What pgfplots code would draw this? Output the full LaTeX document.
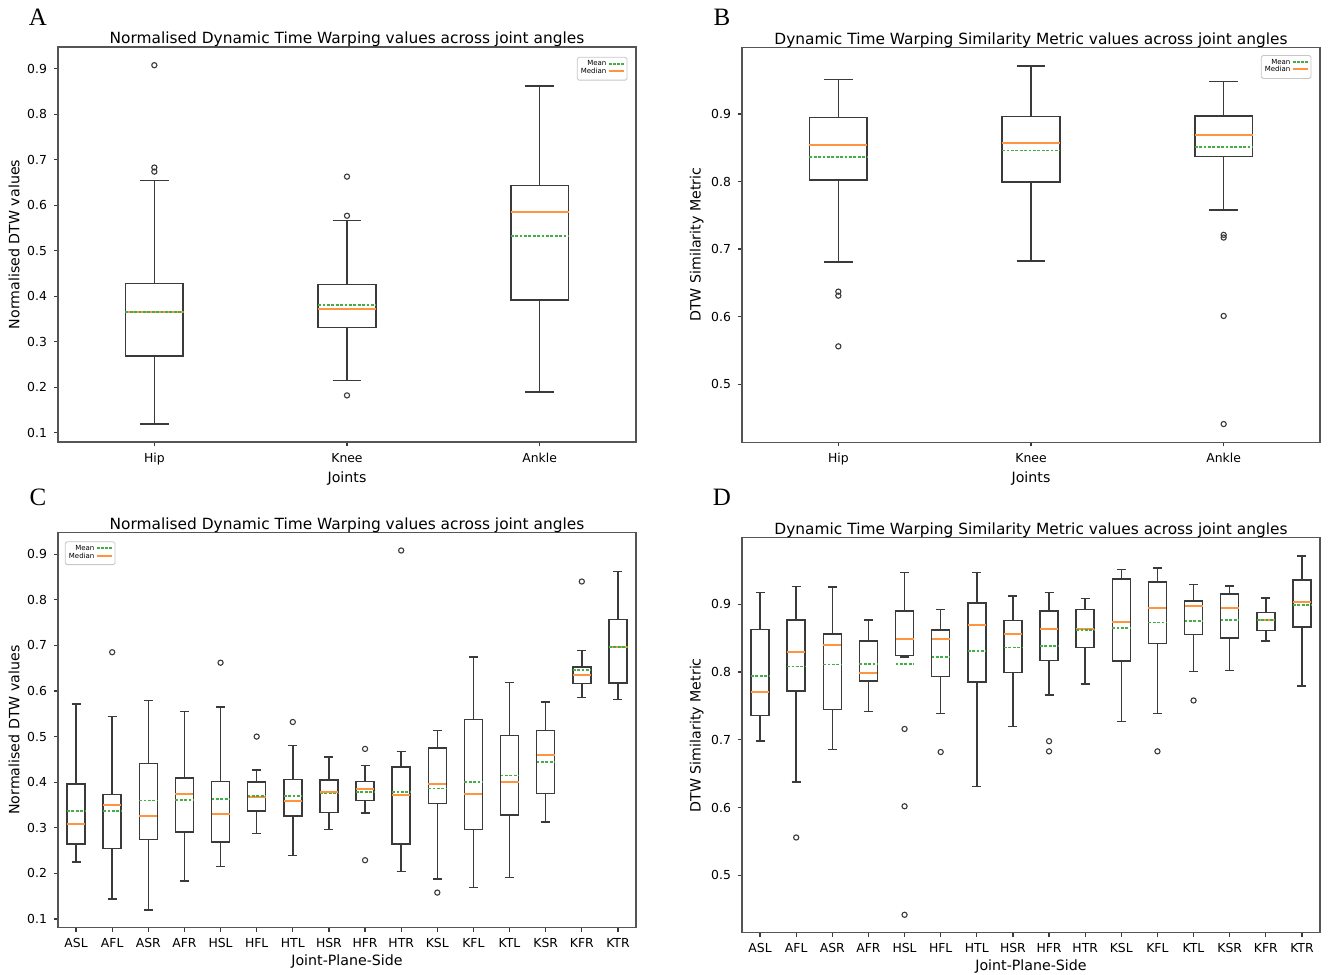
\documentclass[border=0pt]{standalone}
\usepackage{pgfplots}
\pgfplotsset{compat=1.18}
\usepgfplotslibrary{statistics}
\usepackage{fontspec}
\setmainfont{DejaVu Sans}
\newfontfamily\letterfont{Liberation Serif}

\definecolor{boxc}{HTML}{3A3A3A}
\definecolor{framec}{HTML}{555555}
\definecolor{medc}{HTML}{FF9440}
\definecolor{meanc}{HTML}{45AD45}

\pgfplotsset{
  panel/.style={
    scale only axis, width=289pt, height=197.5pt,
    axis line style={draw=framec, line width=0.7pt},
    tick pos=left, tick align=outside, major tick length=2pt,
    tick style={draw=boxc, line width=0.6pt},
    tick label style={font=\fontsize{6.2}{7}\selectfont},
    /pgf/number format/assume math mode=true,
    yticklabel style={/pgf/number format/.cd, fixed, fixed zerofill, precision=1},
    title style={font=\fontsize{7.7}{9}\selectfont, yshift=-9.5pt},
    label style={font=\fontsize{7.1}{8.5}\selectfont},
    xlabel style={yshift=3.5pt},
    ylabel style={yshift=-3pt},
    legend plot pos=right, legend cell align=right,
    legend image code/.code={\draw[##1] (0pt,0.6pt) -- (7.5pt,0.6pt);},
    legend style={font=\fontsize{3.5}{3.7}\selectfont, draw=black!22,
      rounded corners=0.8pt, inner sep=0.9pt, row sep=-2.2pt,
      nodes={inner sep=0.9pt}},
  },
  bx/.style={
    forget plot, draw=boxc, line width=0.75pt, solid,
    boxplot/draw direction=y,
    boxplot/whisker extend=\pgfkeysvalueof{/pgfplots/boxplot/box extend}*0.5,
    boxplot/every median/.style={draw=medc, line width=1pt},
    boxplot/draw/average/.code={%
      \draw[meanc, line width=0.8pt, dash pattern=on 1.4pt off 0.8pt]
        (boxplot box cs:\pgfplotsboxplotvalue{average},0) --
        (boxplot box cs:\pgfplotsboxplotvalue{average},1);},
  },
  fliers/.style={forget plot, only marks, mark=o, mark size=1.3pt,
    mark options={draw=boxc, line width=0.55pt}},
}
\newcommand{\meanmedlegend}{%
  \addlegendimage{meanc, line width=0.8pt, dash pattern=on 1.2pt off 0.8pt}
  \addlegendentry{Mean}
  \addlegendimage{medc, line width=1pt}
  \addlegendentry{Median}}

\begin{document}
\begin{tikzpicture}
\useasboundingbox (0pt,0pt) rectangle (665pt,-487.5pt);

% ---------------- A ----------------
\begin{axis}[panel, at={(29pt,-221pt)}, anchor=south west,
  xmin=0.5, xmax=3.5, ymin=0.0795, ymax=0.948,
  xtick={1,2,3}, xticklabels={Hip,Knee,Ankle},
  ytick={0.1,0.2,0.3,0.4,0.5,0.6,0.7,0.8,0.9},
  title={Normalised Dynamic Time Warping values across joint angles},
  xlabel={Joints}, ylabel={Normalised DTW values},
  legend style={at={(0.985,0.975)}, anchor=north east}]
\meanmedlegend
\addplot[bx, boxplot prepared={draw position=1, box extend=0.3,
  lower whisker=0.119, lower quartile=0.269, median=0.365, average=0.366,
  upper quartile=0.428, upper whisker=0.655}] coordinates {};
\addplot[bx, boxplot prepared={draw position=2, box extend=0.3,
  lower whisker=0.215, lower quartile=0.331, median=0.373, average=0.381,
  upper quartile=0.426, upper whisker=0.566}] coordinates {};
\addplot[bx, boxplot prepared={draw position=3, box extend=0.3,
  lower whisker=0.190, lower quartile=0.392, median=0.586, average=0.533,
  upper quartile=0.643, upper whisker=0.862}] coordinates {};
\addplot[fliers] coordinates {(1,0.908) (1,0.683) (1,0.674)
  (2,0.663) (2,0.577) (2,0.182)};
\end{axis}

% ---------------- B ----------------
\begin{axis}[panel, at={(371pt,-221.15pt)}, anchor=south west,
  xmin=0.5, xmax=3.5, ymin=0.414, ymax=0.9986,
  xtick={1,2,3}, xticklabels={Hip,Knee,Ankle},
  ytick={0.5,0.6,0.7,0.8,0.9},
  title={Dynamic Time Warping Similarity Metric values across joint angles},
  xlabel={Joints}, ylabel={DTW Similarity Metric},
  legend style={at={(0.985,0.98)}, anchor=north east}]
\meanmedlegend
\addplot[bx, boxplot prepared={draw position=1, box extend=0.3,
  lower whisker=0.681, lower quartile=0.802, median=0.854, average=0.836,
  upper quartile=0.895, upper whisker=0.951}] coordinates {};
\addplot[bx, boxplot prepared={draw position=2, box extend=0.3,
  lower whisker=0.682, lower quartile=0.799, median=0.857, average=0.846,
  upper quartile=0.896, upper whisker=0.971}] coordinates {};
\addplot[bx, boxplot prepared={draw position=3, box extend=0.3,
  lower whisker=0.758, lower quartile=0.837, median=0.869, average=0.851,
  upper quartile=0.897, upper whisker=0.948}] coordinates {};
\addplot[fliers] coordinates {(1,0.637) (1,0.631) (1,0.556)
  (3,0.721) (3,0.717) (3,0.601) (3,0.441)};
\end{axis}

% ---------------- C ----------------
\begin{axis}[panel, at={(29pt,-463.85pt)}, anchor=south west,
  xmin=0.5, xmax=16.5, ymin=0.081, ymax=0.947,
  xtick={1,...,16},
  xticklabels={ASL,AFL,ASR,AFR,HSL,HFL,HTL,HSR,HFR,HTR,KSL,KFL,KTL,KSR,KFR,KTR},
  ytick={0.1,0.2,0.3,0.4,0.5,0.6,0.7,0.8,0.9},
  title={Normalised Dynamic Time Warping values across joint angles},
  xlabel={Joint-Plane-Side}, ylabel={Normalised DTW values},
  legend style={at={(0.012,0.978)}, anchor=north west}]
\meanmedlegend
% lower whisker, lower quartile, median, mean, upper quartile, upper whisker
\addplot[bx, boxplot prepared={draw position=1, box extend=0.5,
  lower whisker=0.225, lower quartile=0.265, median=0.308, average=0.337,
  upper quartile=0.396, upper whisker=0.571}] coordinates {};
\addplot[bx, boxplot prepared={draw position=2, box extend=0.5,
  lower whisker=0.144, lower quartile=0.255, median=0.351, average=0.337,
  upper quartile=0.373, upper whisker=0.544}] coordinates {};
\addplot[bx, boxplot prepared={draw position=3, box extend=0.5,
  lower whisker=0.120, lower quartile=0.274, median=0.326, average=0.360,
  upper quartile=0.441, upper whisker=0.579}] coordinates {};
\addplot[bx, boxplot prepared={draw position=4, box extend=0.5,
  lower whisker=0.183, lower quartile=0.291, median=0.374, average=0.361,
  upper quartile=0.409, upper whisker=0.555}] coordinates {};
\addplot[bx, boxplot prepared={draw position=5, box extend=0.5,
  lower whisker=0.215, lower quartile=0.269, median=0.331, average=0.363,
  upper quartile=0.402, upper whisker=0.565}] coordinates {};
\addplot[bx, boxplot prepared={draw position=6, box extend=0.5,
  lower whisker=0.287, lower quartile=0.337, median=0.367, average=0.370,
  upper quartile=0.401, upper whisker=0.427}] coordinates {};
\addplot[bx, boxplot prepared={draw position=7, box extend=0.5,
  lower whisker=0.239, lower quartile=0.326, median=0.358, average=0.370,
  upper quartile=0.406, upper whisker=0.481}] coordinates {};
\addplot[bx, boxplot prepared={draw position=8, box extend=0.5,
  lower whisker=0.296, lower quartile=0.334, median=0.378, average=0.375,
  upper quartile=0.405, upper whisker=0.455}] coordinates {};
\addplot[bx, boxplot prepared={draw position=9, box extend=0.5,
  lower whisker=0.332, lower quartile=0.360, median=0.386, average=0.378,
  upper quartile=0.402, upper whisker=0.437}] coordinates {};
\addplot[bx, boxplot prepared={draw position=10, box extend=0.5,
  lower whisker=0.204, lower quartile=0.264, median=0.372, average=0.378,
  upper quartile=0.433, upper whisker=0.467}] coordinates {};
\addplot[bx, boxplot prepared={draw position=11, box extend=0.5,
  lower whisker=0.188, lower quartile=0.353, median=0.396, average=0.386,
  upper quartile=0.475, upper whisker=0.513}] coordinates {};
\addplot[bx, boxplot prepared={draw position=12, box extend=0.5,
  lower whisker=0.169, lower quartile=0.296, median=0.375, average=0.401,
  upper quartile=0.538, upper whisker=0.674}] coordinates {};
\addplot[bx, boxplot prepared={draw position=13, box extend=0.5,
  lower whisker=0.191, lower quartile=0.328, median=0.401, average=0.415,
  upper quartile=0.502, upper whisker=0.619}] coordinates {};
\addplot[bx, boxplot prepared={draw position=14, box extend=0.5,
  lower whisker=0.313, lower quartile=0.375, median=0.459, average=0.444,
  upper quartile=0.513, upper whisker=0.576}] coordinates {};
\addplot[bx, boxplot prepared={draw position=15, box extend=0.5,
  lower whisker=0.586, lower quartile=0.616, median=0.634, average=0.646,
  upper quartile=0.653, upper whisker=0.689}] coordinates {};
\addplot[bx, boxplot prepared={draw position=16, box extend=0.5,
  lower whisker=0.581, lower quartile=0.618, median=0.697, average=0.696,
  upper quartile=0.757, upper whisker=0.862}] coordinates {};
\addplot[fliers] coordinates {(2,0.685) (5,0.662) (6,0.500) (7,0.532)
  (9,0.473) (9,0.229) (10,0.908) (11,0.158) (15,0.840)};
\end{axis}

% ---------------- D ----------------
\begin{axis}[panel, at={(371pt,-466.35pt)}, anchor=south west,
  xmin=0.5, xmax=16.5, ymin=0.4156, ymax=0.998,
  xtick={1,...,16},
  xticklabels={ASL,AFL,ASR,AFR,HSL,HFL,HTL,HSR,HFR,HTR,KSL,KFL,KTL,KSR,KFR,KTR},
  ytick={0.5,0.6,0.7,0.8,0.9},
  title={Dynamic Time Warping Similarity Metric values across joint angles},
  xlabel={Joint-Plane-Side}, ylabel={DTW Similarity Metric}]
\addplot[bx, boxplot prepared={draw position=1, box extend=0.5,
  lower whisker=0.698, lower quartile=0.736, median=0.770, average=0.794,
  upper quartile=0.863, upper whisker=0.917}] coordinates {};
\addplot[bx, boxplot prepared={draw position=2, box extend=0.5,
  lower whisker=0.638, lower quartile=0.772, median=0.830, average=0.808,
  upper quartile=0.877, upper whisker=0.926}] coordinates {};
\addplot[bx, boxplot prepared={draw position=3, box extend=0.5,
  lower whisker=0.686, lower quartile=0.745, median=0.840, average=0.811,
  upper quartile=0.856, upper whisker=0.925}] coordinates {};
\addplot[bx, boxplot prepared={draw position=4, box extend=0.5,
  lower whisker=0.742, lower quartile=0.787, median=0.799, average=0.812,
  upper quartile=0.846, upper whisker=0.877}] coordinates {};
\addplot[bx, boxplot prepared={draw position=5, box extend=0.5,
  lower whisker=0.822, lower quartile=0.824, median=0.848, average=0.812,
  upper quartile=0.890, upper whisker=0.947}] coordinates {};
\addplot[bx, boxplot prepared={draw position=6, box extend=0.5,
  lower whisker=0.739, lower quartile=0.793, median=0.849, average=0.822,
  upper quartile=0.862, upper whisker=0.892}] coordinates {};
\addplot[bx, boxplot prepared={draw position=7, box extend=0.5,
  lower whisker=0.631, lower quartile=0.785, median=0.870, average=0.831,
  upper quartile=0.902, upper whisker=0.947}] coordinates {};
\addplot[bx, boxplot prepared={draw position=8, box extend=0.5,
  lower whisker=0.720, lower quartile=0.799, median=0.856, average=0.836,
  upper quartile=0.876, upper whisker=0.912}] coordinates {};
\addplot[bx, boxplot prepared={draw position=9, box extend=0.5,
  lower whisker=0.766, lower quartile=0.817, median=0.864, average=0.838,
  upper quartile=0.890, upper whisker=0.917}] coordinates {};
\addplot[bx, boxplot prepared={draw position=10, box extend=0.5,
  lower whisker=0.782, lower quartile=0.836, median=0.864, average=0.862,
  upper quartile=0.892, upper whisker=0.908}] coordinates {};
\addplot[bx, boxplot prepared={draw position=11, box extend=0.5,
  lower whisker=0.727, lower quartile=0.816, median=0.873, average=0.865,
  upper quartile=0.937, upper whisker=0.951}] coordinates {};
\addplot[bx, boxplot prepared={draw position=12, box extend=0.5,
  lower whisker=0.739, lower quartile=0.842, median=0.895, average=0.873,
  upper quartile=0.933, upper whisker=0.953}] coordinates {};
\addplot[bx, boxplot prepared={draw position=13, box extend=0.5,
  lower whisker=0.801, lower quartile=0.855, median=0.897, average=0.875,
  upper quartile=0.905, upper whisker=0.929}] coordinates {};
\addplot[bx, boxplot prepared={draw position=14, box extend=0.5,
  lower whisker=0.802, lower quartile=0.850, median=0.894, average=0.877,
  upper quartile=0.915, upper whisker=0.927}] coordinates {};
\addplot[bx, boxplot prepared={draw position=15, box extend=0.5,
  lower whisker=0.846, lower quartile=0.861, median=0.877, average=0.877,
  upper quartile=0.888, upper whisker=0.909}] coordinates {};
\addplot[bx, boxplot prepared={draw position=16, box extend=0.5,
  lower whisker=0.779, lower quartile=0.866, median=0.903, average=0.899,
  upper quartile=0.936, upper whisker=0.971}] coordinates {};
\addplot[fliers] coordinates {(2,0.556) (5,0.716) (5,0.602) (5,0.442)
  (6,0.682) (9,0.698) (9,0.683) (12,0.683) (13,0.758)};
\end{axis}

\node[font=\letterfont\fontsize{12.5}{14}\selectfont] at (19pt,-8.5pt) {A};
\node[font=\letterfont\fontsize{12.5}{14}\selectfont] at (361pt,-8.5pt) {B};
\node[font=\letterfont\fontsize{12.5}{14}\selectfont] at (19pt,-248.5pt) {C};
\node[font=\letterfont\fontsize{12.5}{14}\selectfont] at (361pt,-248.5pt) {D};
\end{tikzpicture}
\end{document}
